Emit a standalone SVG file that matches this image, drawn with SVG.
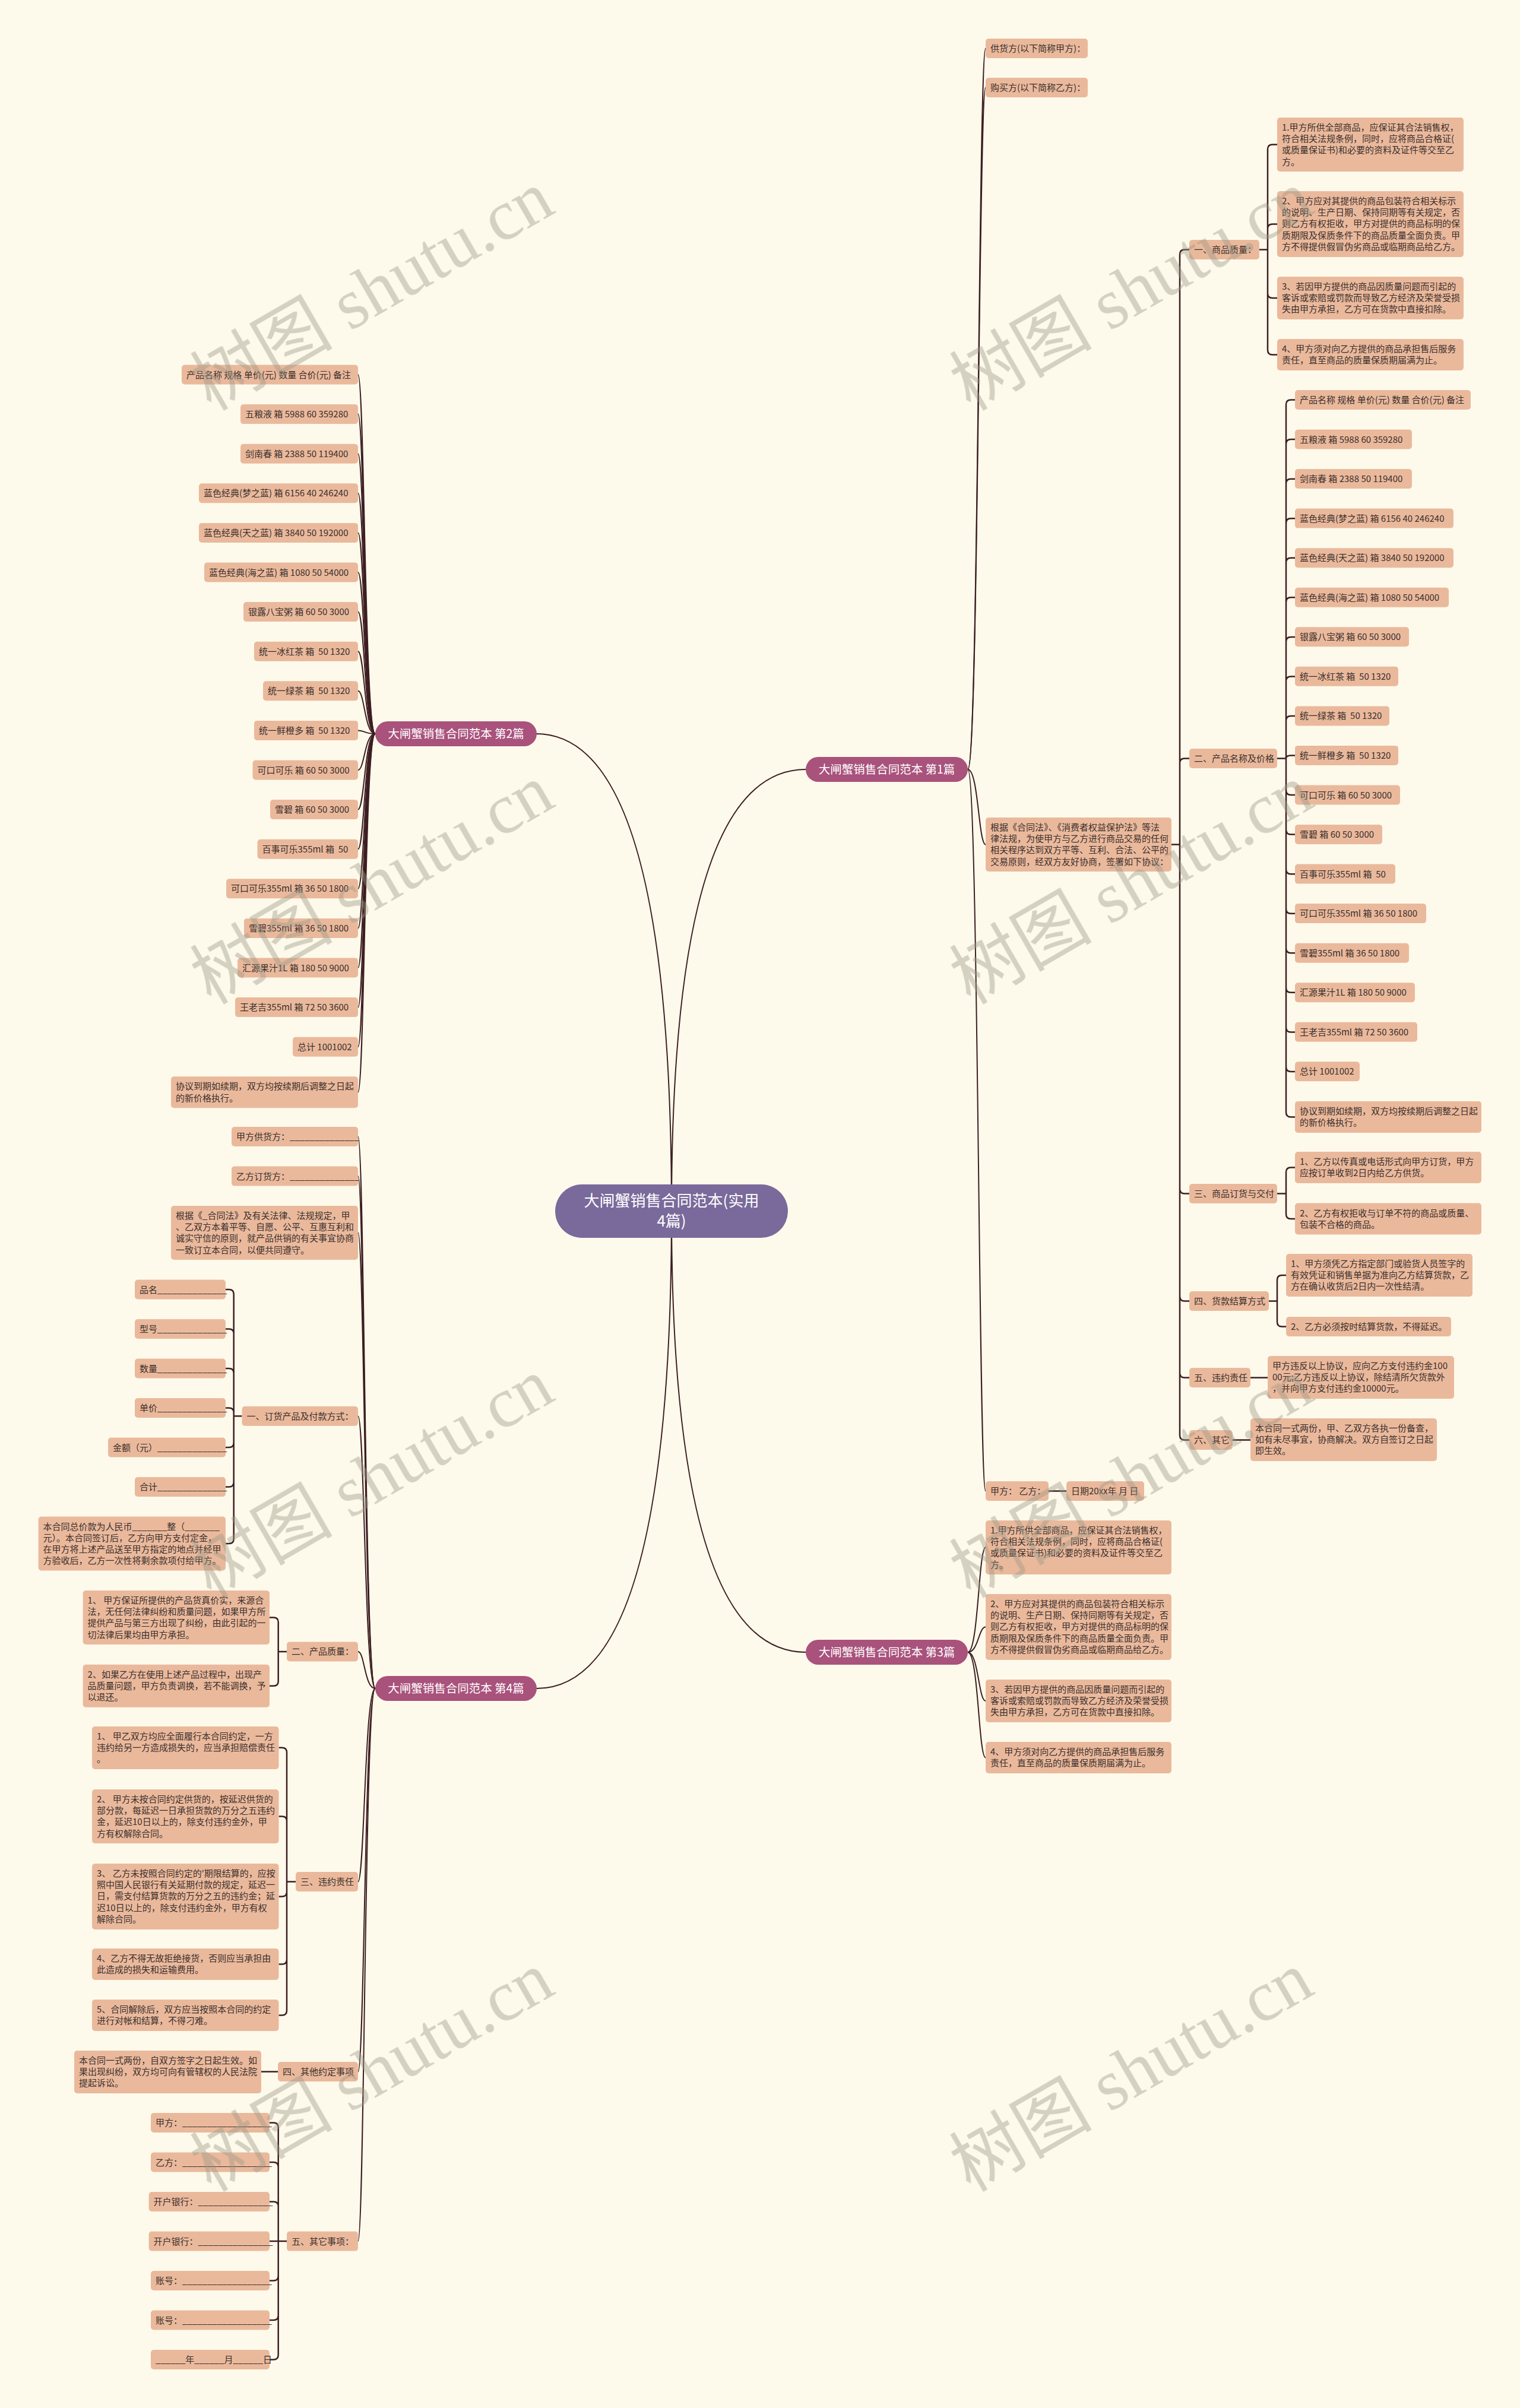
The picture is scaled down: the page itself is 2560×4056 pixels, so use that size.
<svg xmlns="http://www.w3.org/2000/svg" width="2560" height="4056" viewBox="0 0 2560 4056">
<style>
.bg{fill:#fefaeb}
.box{fill:#eab99c}
.t{font-family:"Noto Sans CJK SC","Noto Sans",sans-serif;font-size:15px;fill:#3a2f2c}
.br{fill:#a8527c}
.bt{font-family:"Noto Sans CJK SC","Noto Sans",sans-serif;font-size:19.5px;fill:#ffffff;text-anchor:middle}
.cn{fill:#7a6a9b}
.ct{font-family:"Noto Sans CJK SC","Noto Sans",sans-serif;font-size:26px;fill:#ffffff;text-anchor:middle}
.cv{fill:none;stroke:#3d1e22;stroke-width:2}
.el{fill:none;stroke:#3d1e22;stroke-width:2.5}
.wm{font-family:"Liberation Serif","Noto Sans CJK SC",serif;font-size:120px;fill:#9c9888;opacity:0.42;text-anchor:middle}
</style>
<rect class="bg" x="0" y="0" width="2560" height="4056"/>
<g id="connectors">
<path class="cv" d="M1131 2040 Q1131 1236 903 1236"/>
<path class="cv" d="M1131 2040 Q1131 1296 1357 1296"/>
<path class="cv" d="M1131 2040 Q1131 2783 1357 2783"/>
<path class="cv" d="M1131 2040 Q1131 2844 904 2844"/>
<path class="cv" d="M1630 1296 C1648 1296 1648 81.5 1660 81.5"/>
<path class="cv" d="M1630 1296 C1648 1296 1648 147.5 1660 147.5"/>
<path class="cv" d="M1630 1296 C1648 1296 1648 1422.5 1660 1422.5"/>
<path class="cv" d="M1630 1296 C1648 1296 1648 2511.5 1660 2511.5"/>
<path class="cv" d="M1630 2783 C1648 2783 1648 2606.5 1660 2606.5"/>
<path class="cv" d="M1630 2783 C1648 2783 1648 2740.5 1660 2740.5"/>
<path class="cv" d="M1630 2783 C1648 2783 1648 2865 1660 2865"/>
<path class="cv" d="M1630 2783 C1648 2783 1648 2960.5 1660 2960.5"/>
<path class="cv" d="M632 1236 C614 1236 614 631 603 631"/>
<path class="cv" d="M632 1236 C614 1236 614 697.6 603 697.6"/>
<path class="cv" d="M632 1236 C614 1236 614 764.2 603 764.2"/>
<path class="cv" d="M632 1236 C614 1236 614 830.8 603 830.8"/>
<path class="cv" d="M632 1236 C614 1236 614 897.4 603 897.4"/>
<path class="cv" d="M632 1236 C614 1236 614 964 603 964"/>
<path class="cv" d="M632 1236 C614 1236 614 1030.6 603 1030.6"/>
<path class="cv" d="M632 1236 C614 1236 614 1097.2 603 1097.2"/>
<path class="cv" d="M632 1236 C614 1236 614 1163.8 603 1163.8"/>
<path class="cv" d="M632 1236 C614 1236 614 1230.4 603 1230.4"/>
<path class="cv" d="M632 1236 C614 1236 614 1297 603 1297"/>
<path class="cv" d="M632 1236 C614 1236 614 1363.6 603 1363.6"/>
<path class="cv" d="M632 1236 C614 1236 614 1430.2 603 1430.2"/>
<path class="cv" d="M632 1236 C614 1236 614 1496.8 603 1496.8"/>
<path class="cv" d="M632 1236 C614 1236 614 1563.4 603 1563.4"/>
<path class="cv" d="M632 1236 C614 1236 614 1630 603 1630"/>
<path class="cv" d="M632 1236 C614 1236 614 1696.6 603 1696.6"/>
<path class="cv" d="M632 1236 C614 1236 614 1763.2 603 1763.2"/>
<path class="cv" d="M632 1236 C614 1236 614 1839.8 603 1839.8"/>
<path class="cv" d="M632 2844 C614 2844 614 1914.5 603 1914.5"/>
<path class="cv" d="M632 2844 C614 2844 614 1981 603 1981"/>
<path class="cv" d="M632 2844 C614 2844 614 2076.5 603 2076.5"/>
<path class="cv" d="M632 2844 C614 2844 614 2385.3 603 2385.3"/>
<path class="cv" d="M632 2844 C614 2844 614 2782 603 2782"/>
<path class="cv" d="M632 2844 C614 2844 614 3169.5 603 3169.5"/>
<path class="cv" d="M632 2844 C614 2844 614 3489.5 603 3489.5"/>
<path class="cv" d="M632 2844 C614 2844 614 3775 603 3775"/>
<path class="el" d="M1973 1422.5 H1987 M1987 428.5 V2417.5 M1987 428.5 Q1987 420.5 1995 420.5 H2003 M1987 1285.5 Q1987 1277.5 1995 1277.5 H2003 M1987 2002.5 Q1987 2010.5 1995 2010.5 H2003 M1987 2183.5 Q1987 2191.5 1995 2191.5 H2003 M1987 2312.5 Q1987 2320.5 1995 2320.5 H2003 M1987 2417.5 Q1987 2425.5 1995 2425.5 H2003"/>
<path class="el" d="M2121 420.5 H2135 M2135 251.5 V589.5 M2135 251.5 Q2135 243.5 2143 243.5 H2151 M2135 385.5 Q2135 377.5 2143 377.5 H2151 M2135 494 Q2135 502 2143 502 H2151 M2135 589.5 Q2135 597.5 2143 597.5 H2151"/>
<path class="el" d="M2151 1277.5 H2166 M2166 681.6 V1873.4 M2166 681.6 Q2166 673.6 2174 673.6 H2181 M2166 748.1 Q2166 740.1 2174 740.1 H2181 M2166 814.7 Q2166 806.7 2174 806.7 H2181 M2166 881.2 Q2166 873.2 2174 873.2 H2181 M2166 947.8 Q2166 939.8 2174 939.8 H2181 M2166 1014.3 Q2166 1006.3 2174 1006.3 H2181 M2166 1080.9 Q2166 1072.9 2174 1072.9 H2181 M2166 1147.4 Q2166 1139.4 2174 1139.4 H2181 M2166 1214 Q2166 1206 2174 1206 H2181 M2166 1277.5 Q2166 1272.5 2174 1272.5 H2181 M2166 1331.1 Q2166 1339.1 2174 1339.1 H2181 M2166 1397.6 Q2166 1405.6 2174 1405.6 H2181 M2166 1464.2 Q2166 1472.2 2174 1472.2 H2181 M2166 1530.7 Q2166 1538.7 2174 1538.7 H2181 M2166 1597.3 Q2166 1605.3 2174 1605.3 H2181 M2166 1663.8 Q2166 1671.8 2174 1671.8 H2181 M2166 1730.4 Q2166 1738.4 2174 1738.4 H2181 M2166 1796.9 Q2166 1804.9 2174 1804.9 H2181 M2166 1873.4 Q2166 1881.4 2174 1881.4 H2181"/>
<path class="el" d="M2151 2010.5 H2166 M2166 1974.5 V2045 M2166 1974.5 Q2166 1966.5 2174 1966.5 H2181 M2166 2045 Q2166 2053 2174 2053 H2181"/>
<path class="el" d="M2137 2191.5 H2151 M2151 2156 V2226.5 M2151 2156 Q2151 2148 2159 2148 H2166 M2151 2226.5 Q2151 2234.5 2159 2234.5 H2166"/>
<path class="el" d="M2106 2320.5 H2135"/>
<path class="el" d="M2076 2425.5 H2106"/>
<path class="el" d="M1766 2511.5 H1796"/>
<path class="el" d="M407.5 2385.3 H393.7 M393.7 2180 V2592 M393.7 2180 Q393.7 2172 385.7 2172 H380 M393.7 2246.5 Q393.7 2238.5 385.7 2238.5 H380 M393.7 2313 Q393.7 2305 385.7 2305 H380 M393.7 2379.5 Q393.7 2371.5 385.7 2371.5 H380 M393.7 2430 Q393.7 2438 385.7 2438 H380 M393.7 2496.5 Q393.7 2504.5 385.7 2504.5 H380 M393.7 2592 Q393.7 2600 385.7 2600 H380"/>
<path class="el" d="M483 2782 H468.7 M468.7 2732.5 V2831.7 M468.7 2732.5 Q468.7 2724.5 460.7 2724.5 H454 M468.7 2831.7 Q468.7 2839.7 460.7 2839.7 H454"/>
<path class="el" d="M498 3169.5 H483 M483 2951.8 V3386.5 M483 2951.8 Q483 2943.8 475 2943.8 H469.5 M483 3067.5 Q483 3059.5 475 3059.5 H469.5 M483 3186.5 Q483 3194.5 475 3194.5 H469.5 M483 3300.5 Q483 3308.5 475 3308.5 H469.5 M483 3386.5 Q483 3394.5 475 3394.5 H469.5"/>
<path class="el" d="M468 3489.5 H440"/>
<path class="el" d="M483 3775 H454 M468.7 3583.6 V3966.6 M468.7 3583.6 Q468.7 3575.6 460.7 3575.6 H454 M468.7 3650.1 Q468.7 3642.1 460.7 3642.1 H454 M468.7 3716.6 Q468.7 3708.6 460.7 3708.6 H454 M468.7 3833.6 Q468.7 3841.6 460.7 3841.6 H454 M468.7 3900.1 Q468.7 3908.1 460.7 3908.1 H454 M468.7 3966.6 Q468.7 3974.6 460.7 3974.6 H454"/>
</g>
<g id="center"><rect class="cn" x="935" y="1995" width="392" height="90" rx="45"/><text class="ct"><tspan x="1131" y="2031.5">大闸蟹销售合同范本(实用</tspan><tspan x="1131" y="2066">4篇)</tspan></text></g>
<g id="branch1"><rect class="br" x="1357" y="1275" width="273" height="42" rx="21"/><text class="bt" x="1493.5" y="1303">大闸蟹销售合同范本 第1篇</text></g>
<g id="branch2"><rect class="br" x="632" y="1215" width="272" height="42" rx="21"/><text class="bt" x="768" y="1243">大闸蟹销售合同范本 第2篇</text></g>
<g id="branch3"><rect class="br" x="1357" y="2762" width="273" height="42" rx="21"/><text class="bt" x="1493.5" y="2790">大闸蟹销售合同范本 第3篇</text></g>
<g id="branch4"><rect class="br" x="632" y="2823" width="272" height="42" rx="21"/><text class="bt" x="768" y="2851">大闸蟹销售合同范本 第4篇</text></g>
<g id="p1-a1"><rect class="box" x="1660" y="65" width="172" height="33" rx="5"/><text class="t" x="1668" y="87">供货方(以下简称甲方)：</text></g>
<g id="p1-a2"><rect class="box" x="1660" y="131" width="172" height="33" rx="5"/><text class="t" x="1668" y="153">购买方(以下简称乙方)：</text></g>
<g id="p1-a3"><rect class="box" x="1660" y="1377" width="313" height="91" rx="5"/><text class="t"><tspan x="1668" y="1399">根据《合同法》、《消费者权益保护法》等法</tspan><tspan x="1668" y="1418.2">律法规，为使甲方与乙方进行商品交易的任何</tspan><tspan x="1668" y="1437.4">相关程序达到双方平等、互利、合法、公平的</tspan><tspan x="1668" y="1456.6">交易原则，经双方友好协商，签署如下协议：</tspan></text></g>
<g id="p1-a4"><rect class="box" x="1660" y="2495" width="106" height="33" rx="5"/><text class="t" x="1668" y="2517">甲方： 乙方：</text></g>
<g id="p1-a4a"><rect class="box" x="1796" y="2495" width="131" height="33" rx="5"/><text class="t" x="1804" y="2517">日期20xx年 月 日</text></g>
<g id="p1-b1"><rect class="box" x="2003" y="404" width="118" height="33" rx="5"/><text class="t" x="2011" y="426">一、商品质量：</text></g>
<g id="p1-c1"><rect class="box" x="2151" y="198" width="314" height="91" rx="5"/><text class="t"><tspan x="2159" y="220">1.甲方所供全部商品，应保证其合法销售权，</tspan><tspan x="2159" y="239.2">符合相关法规条例，同时，应将商品合格证(</tspan><tspan x="2159" y="258.4">或质量保证书)和必要的资料及证件等交至乙</tspan><tspan x="2159" y="277.6">方。</tspan></text></g>
<g id="p1-c2"><rect class="box" x="2151" y="322" width="314" height="111" rx="5"/><text class="t"><tspan x="2159" y="344">2、甲方应对其提供的商品包装符合相关标示</tspan><tspan x="2159" y="363.2">的说明、生产日期、保持同期等有关规定，否</tspan><tspan x="2159" y="382.4">则乙方有权拒收，甲方对提供的商品标明的保</tspan><tspan x="2159" y="401.6">质期限及保质条件下的商品质量全面负责。甲</tspan><tspan x="2159" y="420.8">方不得提供假冒伪劣商品或临期商品给乙方。</tspan></text></g>
<g id="p1-c3"><rect class="box" x="2151" y="466" width="314" height="72" rx="5"/><text class="t"><tspan x="2159" y="488">3、若因甲方提供的商品因质量问题而引起的</tspan><tspan x="2159" y="507.2">客诉或索赔或罚款而导致乙方经济及荣誉受损</tspan><tspan x="2159" y="526.4">失由甲方承担，乙方可在货款中直接扣除。</tspan></text></g>
<g id="p1-c4"><rect class="box" x="2151" y="571" width="314" height="53" rx="5"/><text class="t"><tspan x="2159" y="593">4、甲方须对向乙方提供的商品承担售后服务</tspan><tspan x="2159" y="612.2">责任，直至商品的质量保质期届满为止。</tspan></text></g>
<g id="p1-b2"><rect class="box" x="2003" y="1261" width="148" height="33" rx="5"/><text class="t" x="2011" y="1283">二、产品名称及价格</text></g>
<g id="p1-b2-items">
<g id="p1-i0"><rect class="box" x="2181" y="657" width="296" height="33" rx="5"/><text class="t" x="2189" y="679">产品名称 规格 单价(元) 数量 合价(元) 备注</text></g>
<g id="p1-i1"><rect class="box" x="2181" y="723.5" width="197" height="33" rx="5"/><text class="t" x="2189" y="745.5">五粮液 箱 5988 60 359280</text></g>
<g id="p1-i2"><rect class="box" x="2181" y="790.1" width="197" height="33" rx="5"/><text class="t" x="2189" y="812.1">剑南春 箱 2388 50 119400</text></g>
<g id="p1-i3"><rect class="box" x="2181" y="856.6" width="267" height="33" rx="5"/><text class="t" x="2189" y="878.6">蓝色经典(梦之蓝) 箱 6156 40 246240</text></g>
<g id="p1-i4"><rect class="box" x="2181" y="923.2" width="267" height="33" rx="5"/><text class="t" x="2189" y="945.2">蓝色经典(天之蓝) 箱 3840 50 192000</text></g>
<g id="p1-i5"><rect class="box" x="2181" y="989.7" width="259" height="33" rx="5"/><text class="t" x="2189" y="1011.7">蓝色经典(海之蓝) 箱 1080 50 54000</text></g>
<g id="p1-i6"><rect class="box" x="2181" y="1056.3" width="192" height="33" rx="5"/><text class="t" x="2189" y="1078.3">银露八宝粥 箱 60 50 3000</text></g>
<g id="p1-i7"><rect class="box" x="2181" y="1122.8" width="174" height="33" rx="5"/><text class="t" x="2189" y="1144.8" xml:space="preserve">统一冰红茶 箱  50 1320</text></g>
<g id="p1-i8"><rect class="box" x="2181" y="1189.4" width="159" height="33" rx="5"/><text class="t" x="2189" y="1211.4" xml:space="preserve">统一绿茶 箱  50 1320</text></g>
<g id="p1-i9"><rect class="box" x="2181" y="1255.9" width="174" height="33" rx="5"/><text class="t" x="2189" y="1277.9" xml:space="preserve">统一鲜橙多 箱  50 1320</text></g>
<g id="p1-i10"><rect class="box" x="2181" y="1322.5" width="177" height="33" rx="5"/><text class="t" x="2189" y="1344.5">可口可乐 箱 60 50 3000</text></g>
<g id="p1-i11"><rect class="box" x="2181" y="1389" width="147" height="33" rx="5"/><text class="t" x="2189" y="1411">雪碧 箱 60 50 3000</text></g>
<g id="p1-i12"><rect class="box" x="2181" y="1455.6" width="169" height="33" rx="5"/><text class="t" x="2189" y="1477.6" xml:space="preserve">百事可乐355ml 箱  50</text></g>
<g id="p1-i13"><rect class="box" x="2181" y="1522.1" width="221" height="33" rx="5"/><text class="t" x="2189" y="1544.1">可口可乐355ml 箱 36 50 1800</text></g>
<g id="p1-i14"><rect class="box" x="2181" y="1588.7" width="192" height="33" rx="5"/><text class="t" x="2189" y="1610.7">雪碧355ml 箱 36 50 1800</text></g>
<g id="p1-i15"><rect class="box" x="2181" y="1655.2" width="202" height="33" rx="5"/><text class="t" x="2189" y="1677.2">汇源果汁1L 箱 180 50 9000</text></g>
<g id="p1-i16"><rect class="box" x="2181" y="1721.8" width="206" height="33" rx="5"/><text class="t" x="2189" y="1743.8">王老吉355ml 箱 72 50 3600</text></g>
<g id="p1-i17"><rect class="box" x="2181" y="1788.3" width="109" height="33" rx="5"/><text class="t" x="2189" y="1810.3">总计 1001002</text></g>
<g id="p1-i18"><rect class="box" x="2181" y="1854.9" width="314" height="53" rx="5"/><text class="t"><tspan x="2189" y="1876.9">协议到期如续期，双方均按续期后调整之日起</tspan><tspan x="2189" y="1896.1">的新价格执行。</tspan></text></g>
</g>
<g id="p1-b3"><rect class="box" x="2003" y="1994" width="148" height="33" rx="5"/><text class="t" x="2011" y="2016">三、商品订货与交付</text></g>
<g id="p1-b3a"><rect class="box" x="2181" y="1940" width="314" height="53" rx="5"/><text class="t"><tspan x="2189" y="1962">1、乙方以传真或电话形式向甲方订货，甲方</tspan><tspan x="2189" y="1981.2">应按订单收到2日内给乙方供货。</tspan></text></g>
<g id="p1-b3b"><rect class="box" x="2181" y="2026.5" width="314" height="53" rx="5"/><text class="t"><tspan x="2189" y="2048.5">2、乙方有权拒收与订单不符的商品或质量、</tspan><tspan x="2189" y="2067.7">包装不合格的商品。</tspan></text></g>
<g id="p1-b4"><rect class="box" x="2003" y="2175" width="134" height="33" rx="5"/><text class="t" x="2011" y="2197">四、货款结算方式</text></g>
<g id="p1-b4a"><rect class="box" x="2166" y="2112" width="314" height="72" rx="5"/><text class="t"><tspan x="2174" y="2134">1、甲方须凭乙方指定部门或验货人员签字的</tspan><tspan x="2174" y="2153.2">有效凭证和销售单据为准向乙方结算货款，乙</tspan><tspan x="2174" y="2172.4">方在确认收货后2日内一次性结清。</tspan></text></g>
<g id="p1-b4b"><rect class="box" x="2166" y="2218" width="278" height="33" rx="5"/><text class="t" x="2174" y="2240">2、乙方必须按时结算货款，不得延迟。</text></g>
<g id="p1-b5"><rect class="box" x="2003" y="2304" width="103" height="33" rx="5"/><text class="t" x="2011" y="2326">五、违约责任</text></g>
<g id="p1-b5a"><rect class="box" x="2135" y="2284" width="314" height="72" rx="5"/><text class="t"><tspan x="2143" y="2306">甲方违反以上协议，应向乙方支付违约金100</tspan><tspan x="2143" y="2325.2">00元;乙方违反以上协议，除结清所欠货款外</tspan><tspan x="2143" y="2344.4">，并向甲方支付违约金10000元。</tspan></text></g>
<g id="p1-b6"><rect class="box" x="2003" y="2409" width="73" height="33" rx="5"/><text class="t" x="2011" y="2431">六、其它</text></g>
<g id="p1-b6a"><rect class="box" x="2106" y="2389" width="314" height="72" rx="5"/><text class="t"><tspan x="2114" y="2411">本合同一式两份，甲、乙双方各执一份备查，</tspan><tspan x="2114" y="2430.2">如有未尽事宜，协商解决。双方自签订之日起</tspan><tspan x="2114" y="2449.4">即生效。</tspan></text></g>
<g id="p3-d1"><rect class="box" x="1660" y="2561" width="313" height="91" rx="5"/><text class="t"><tspan x="1668" y="2583">1.甲方所供全部商品，应保证其合法销售权，</tspan><tspan x="1668" y="2602.2">符合相关法规条例，同时，应将商品合格证(</tspan><tspan x="1668" y="2621.4">或质量保证书)和必要的资料及证件等交至乙</tspan><tspan x="1668" y="2640.6">方。</tspan></text></g>
<g id="p3-d2"><rect class="box" x="1660" y="2685" width="313" height="111" rx="5"/><text class="t"><tspan x="1668" y="2707">2、甲方应对其提供的商品包装符合相关标示</tspan><tspan x="1668" y="2726.2">的说明、生产日期、保持同期等有关规定，否</tspan><tspan x="1668" y="2745.4">则乙方有权拒收，甲方对提供的商品标明的保</tspan><tspan x="1668" y="2764.6">质期限及保质条件下的商品质量全面负责。甲</tspan><tspan x="1668" y="2783.8">方不得提供假冒伪劣商品或临期商品给乙方。</tspan></text></g>
<g id="p3-d3"><rect class="box" x="1660" y="2829" width="313" height="72" rx="5"/><text class="t"><tspan x="1668" y="2851">3、若因甲方提供的商品因质量问题而引起的</tspan><tspan x="1668" y="2870.2">客诉或索赔或罚款而导致乙方经济及荣誉受损</tspan><tspan x="1668" y="2889.4">失由甲方承担，乙方可在货款中直接扣除。</tspan></text></g>
<g id="p3-d4"><rect class="box" x="1660" y="2934" width="313" height="53" rx="5"/><text class="t"><tspan x="1668" y="2956">4、甲方须对向乙方提供的商品承担售后服务</tspan><tspan x="1668" y="2975.2">责任，直至商品的质量保质期届满为止。</tspan></text></g>
<g id="p2-items">
<g id="p2-i0"><rect class="box" x="306" y="614.5" width="297" height="33" rx="5"/><text class="t" x="314" y="636.5">产品名称 规格 单价(元) 数量 合价(元) 备注</text></g>
<g id="p2-i1"><rect class="box" x="405" y="681.1" width="198" height="33" rx="5"/><text class="t" x="413" y="703.1">五粮液 箱 5988 60 359280</text></g>
<g id="p2-i2"><rect class="box" x="405" y="747.7" width="198" height="33" rx="5"/><text class="t" x="413" y="769.7">剑南春 箱 2388 50 119400</text></g>
<g id="p2-i3"><rect class="box" x="335" y="814.3" width="268" height="33" rx="5"/><text class="t" x="343" y="836.3">蓝色经典(梦之蓝) 箱 6156 40 246240</text></g>
<g id="p2-i4"><rect class="box" x="335" y="880.9" width="268" height="33" rx="5"/><text class="t" x="343" y="902.9">蓝色经典(天之蓝) 箱 3840 50 192000</text></g>
<g id="p2-i5"><rect class="box" x="344" y="947.5" width="259" height="33" rx="5"/><text class="t" x="352" y="969.5">蓝色经典(海之蓝) 箱 1080 50 54000</text></g>
<g id="p2-i6"><rect class="box" x="410" y="1014.1" width="193" height="33" rx="5"/><text class="t" x="418" y="1036.1">银露八宝粥 箱 60 50 3000</text></g>
<g id="p2-i7"><rect class="box" x="428" y="1080.7" width="175" height="33" rx="5"/><text class="t" x="436" y="1102.7" xml:space="preserve">统一冰红茶 箱  50 1320</text></g>
<g id="p2-i8"><rect class="box" x="443" y="1147.3" width="160" height="33" rx="5"/><text class="t" x="451" y="1169.3" xml:space="preserve">统一绿茶 箱  50 1320</text></g>
<g id="p2-i9"><rect class="box" x="428" y="1213.9" width="175" height="33" rx="5"/><text class="t" x="436" y="1235.9" xml:space="preserve">统一鲜橙多 箱  50 1320</text></g>
<g id="p2-i10"><rect class="box" x="425.5" y="1280.5" width="177.5" height="33" rx="5"/><text class="t" x="433.5" y="1302.5">可口可乐 箱 60 50 3000</text></g>
<g id="p2-i11"><rect class="box" x="455" y="1347.1" width="148" height="33" rx="5"/><text class="t" x="463" y="1369.1">雪碧 箱 60 50 3000</text></g>
<g id="p2-i12"><rect class="box" x="433.5" y="1413.7" width="169.5" height="33" rx="5"/><text class="t" x="441.5" y="1435.7" xml:space="preserve">百事可乐355ml 箱  50</text></g>
<g id="p2-i13"><rect class="box" x="381" y="1480.3" width="222" height="33" rx="5"/><text class="t" x="389" y="1502.3">可口可乐355ml 箱 36 50 1800</text></g>
<g id="p2-i14"><rect class="box" x="411" y="1546.9" width="192" height="33" rx="5"/><text class="t" x="419" y="1568.9">雪碧355ml 箱 36 50 1800</text></g>
<g id="p2-i15"><rect class="box" x="400" y="1613.5" width="203" height="33" rx="5"/><text class="t" x="408" y="1635.5">汇源果汁1L 箱 180 50 9000</text></g>
<g id="p2-i16"><rect class="box" x="396" y="1680.1" width="207" height="33" rx="5"/><text class="t" x="404" y="1702.1">王老吉355ml 箱 72 50 3600</text></g>
<g id="p2-i17"><rect class="box" x="493" y="1746.7" width="110" height="33" rx="5"/><text class="t" x="501" y="1768.7">总计 1001002</text></g>
<g id="p2-i18"><rect class="box" x="288" y="1813.3" width="315" height="53" rx="5"/><text class="t"><tspan x="296" y="1835.3">协议到期如续期，双方均按续期后调整之日起</tspan><tspan x="296" y="1854.5">的新价格执行。</tspan></text></g>
</g>
<g id="p4-l1"><rect class="box" x="390" y="1898" width="213" height="33" rx="5"/><text class="t" x="398" y="1920">甲方供货方：______________</text></g>
<g id="p4-l2"><rect class="box" x="390" y="1964.6" width="213" height="33" rx="5"/><text class="t" x="398" y="1986.6">乙方订货方：______________</text></g>
<g id="p4-l3"><rect class="box" x="288" y="2031" width="315" height="91" rx="5"/><text class="t"><tspan x="296" y="2053">根据《_合同法》及有关法律、法规规定，甲</tspan><tspan x="296" y="2072.2">、乙双方本着平等、自愿、公平、互惠互利和</tspan><tspan x="296" y="2091.4">诚实守信的原则，就产品供销的有关事宜协商</tspan><tspan x="296" y="2110.6">一致订立本合同，以便共同遵守。</tspan></text></g>
<g id="p4-l4"><rect class="box" x="407.5" y="2368.8" width="195.5" height="33" rx="5"/><text class="t" x="415.5" y="2390.8">一、订货产品及付款方式：</text></g>
<g id="p4-l4a"><rect class="box" x="227" y="2155.5" width="153" height="33" rx="5"/><text class="t" x="235" y="2177.5">品名______________</text></g>
<g id="p4-l4b"><rect class="box" x="227" y="2222" width="153" height="33" rx="5"/><text class="t" x="235" y="2244">型号______________</text></g>
<g id="p4-l4c"><rect class="box" x="227" y="2288.5" width="153" height="33" rx="5"/><text class="t" x="235" y="2310.5">数量______________</text></g>
<g id="p4-l4d"><rect class="box" x="227" y="2355" width="153" height="33" rx="5"/><text class="t" x="235" y="2377">单价______________</text></g>
<g id="p4-l4e"><rect class="box" x="182" y="2421.5" width="198" height="33" rx="5"/><text class="t" x="190" y="2443.5">金额（元）______________</text></g>
<g id="p4-l4f"><rect class="box" x="227" y="2488" width="153" height="33" rx="5"/><text class="t" x="235" y="2510">合计______________</text></g>
<g id="p4-l4g"><rect class="box" x="64.6" y="2554.5" width="315.4" height="91" rx="5"/><text class="t"><tspan x="72.6" y="2576.5">本合同总价款为人民币_______整（_______</tspan><tspan x="72.6" y="2595.7">元）。本合同签订后，乙方向甲方支付定金，</tspan><tspan x="72.6" y="2614.9">在甲方将上述产品送至甲方指定的地点并经甲</tspan><tspan x="72.6" y="2634.1">方验收后，乙方一次性将剩余款项付给甲方。</tspan></text></g>
<g id="p4-l5"><rect class="box" x="483" y="2765.4" width="120" height="33" rx="5"/><text class="t" x="491" y="2787.4">二、产品质量：</text></g>
<g id="p4-l5a"><rect class="box" x="139.6" y="2679" width="314.4" height="91" rx="5"/><text class="t"><tspan x="147.6" y="2701">1、 甲方保证所提供的产品货真价实，来源合</tspan><tspan x="147.6" y="2720.2">法，无任何法律纠纷和质量问题，如果甲方所</tspan><tspan x="147.6" y="2739.4">提供产品与第三方出现了纠纷，由此引起的一</tspan><tspan x="147.6" y="2758.6">切法律后果均由甲方承担。</tspan></text></g>
<g id="p4-l5b"><rect class="box" x="139.6" y="2803.7" width="314.4" height="72" rx="5"/><text class="t"><tspan x="147.6" y="2825.7">2、如果乙方在使用上述产品过程中，出现产</tspan><tspan x="147.6" y="2844.9">品质量问题，甲方负责调换，若不能调换，予</tspan><tspan x="147.6" y="2864.1">以退还。</tspan></text></g>
<g id="p4-l6"><rect class="box" x="498" y="3153" width="105" height="33" rx="5"/><text class="t" x="506" y="3175">三、违约责任</text></g>
<g id="p4-l6a"><rect class="box" x="155" y="2908" width="314.5" height="72" rx="5"/><text class="t"><tspan x="163" y="2930">1、 甲乙双方均应全面履行本合同约定，一方</tspan><tspan x="163" y="2949.2">违约给另一方造成损失的，应当承担赔偿责任</tspan><tspan x="163" y="2968.4">。</tspan></text></g>
<g id="p4-l6b"><rect class="box" x="155" y="3014" width="314.5" height="91" rx="5"/><text class="t"><tspan x="163" y="3036">2、 甲方未按合同约定供货的，按延迟供货的</tspan><tspan x="163" y="3055.2">部分款，每延迟一日承担货款的万分之五违约</tspan><tspan x="163" y="3074.4">金，延迟10日以上的，除支付违约金外，甲</tspan><tspan x="163" y="3093.6">方有权解除合同。</tspan></text></g>
<g id="p4-l6c"><rect class="box" x="155" y="3139" width="314.5" height="111" rx="5"/><text class="t"><tspan x="163" y="3161">3、 乙方未按照合同约定的'期限结算的，应按</tspan><tspan x="163" y="3180.2">照中国人民银行有关延期付款的规定，延迟一</tspan><tspan x="163" y="3199.4">日，需支付结算货款的万分之五的违约金；延</tspan><tspan x="163" y="3218.6">迟10日以上的，除支付违约金外，甲方有权</tspan><tspan x="163" y="3237.8">解除合同。</tspan></text></g>
<g id="p4-l6d"><rect class="box" x="155" y="3282" width="314.5" height="53" rx="5"/><text class="t"><tspan x="163" y="3304">4、乙方不得无故拒绝接货，否则应当承担由</tspan><tspan x="163" y="3323.2">此造成的损失和运输费用。</tspan></text></g>
<g id="p4-l6e"><rect class="box" x="155" y="3368" width="314.5" height="53" rx="5"/><text class="t"><tspan x="163" y="3390">5、合同解除后，双方应当按照本合同的约定</tspan><tspan x="163" y="3409.2">进行对帐和结算，不得刁难。</tspan></text></g>
<g id="p4-l7"><rect class="box" x="468" y="3473" width="135" height="33" rx="5"/><text class="t" x="476" y="3495">四、其他约定事项</text></g>
<g id="p4-l7a"><rect class="box" x="125" y="3454" width="315" height="72" rx="5"/><text class="t"><tspan x="133" y="3476">本合同一式两份，自双方签字之日起生效。如</tspan><tspan x="133" y="3495.2">果出现纠纷，双方均可向有管辖权的人民法院</tspan><tspan x="133" y="3514.4">提起诉讼。</tspan></text></g>
<g id="p4-l8"><rect class="box" x="483" y="3758.6" width="120" height="33" rx="5"/><text class="t" x="491" y="3780.6">五、其它事项：</text></g>
<g id="p4-l8a"><rect class="box" x="254" y="3559" width="200" height="33" rx="5"/><text class="t" x="262" y="3581">甲方：__________________</text></g>
<g id="p4-l8b"><rect class="box" x="254" y="3625.5" width="200" height="33" rx="5"/><text class="t" x="262" y="3647.5">乙方：__________________</text></g>
<g id="p4-l8c"><rect class="box" x="250.6" y="3692" width="203.4" height="33" rx="5"/><text class="t" x="258.6" y="3714">开户银行：_______________</text></g>
<g id="p4-l8d"><rect class="box" x="250.6" y="3758.5" width="203.4" height="33" rx="5"/><text class="t" x="258.6" y="3780.5">开户银行：_______________</text></g>
<g id="p4-l8e"><rect class="box" x="254" y="3825" width="200" height="33" rx="5"/><text class="t" x="262" y="3847">账号：__________________</text></g>
<g id="p4-l8f"><rect class="box" x="254" y="3891.5" width="200" height="33" rx="5"/><text class="t" x="262" y="3913.5">账号：__________________</text></g>
<g id="p4-l8g"><rect class="box" x="254" y="3958" width="200" height="33" rx="5"/><text class="t" x="262" y="3980">______年______月______日</text></g>
<g id="watermark" class="wm">
<text x="647" y="525" transform="rotate(-30 647 525)">树图 shutu.cn</text>
<text x="647" y="1525" transform="rotate(-30 647 1525)">树图 shutu.cn</text>
<text x="647" y="2525" transform="rotate(-30 647 2525)">树图 shutu.cn</text>
<text x="647" y="3525" transform="rotate(-30 647 3525)">树图 shutu.cn</text>
<text x="1926" y="525" transform="rotate(-30 1926 525)">树图 shutu.cn</text>
<text x="1926" y="1525" transform="rotate(-30 1926 1525)">树图 shutu.cn</text>
<text x="1926" y="2525" transform="rotate(-30 1926 2525)">树图 shutu.cn</text>
<text x="1926" y="3525" transform="rotate(-30 1926 3525)">树图 shutu.cn</text>
</g>
</svg>
